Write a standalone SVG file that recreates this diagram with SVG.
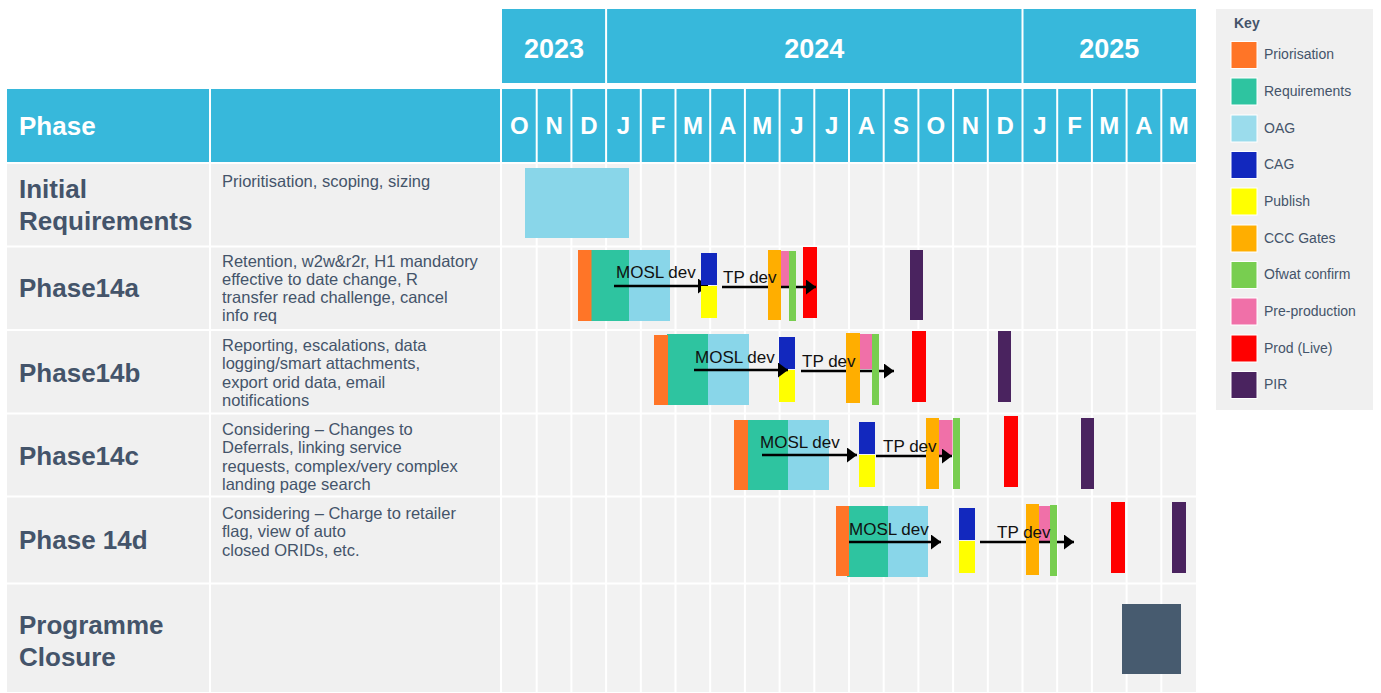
<svg xmlns="http://www.w3.org/2000/svg" width="1381" height="693" viewBox="0 0 1381 693">
  <style>
    text { font-family: "Liberation Sans", Arial, sans-serif; }
    .hdr { fill: #37B8DB; }
    .hdrtxt { fill: #FFFFFF; font-weight: bold; text-anchor: middle; }
    .year { font-size: 27px; }
    .month { font-size: 24px; }
    .phase { fill: #44546A; font-size: 26px; font-weight: bold; }
    .desc { fill: #44546A; font-size: 16.5px; }
    .lbl { fill: #111111; font-size: 17px; }
    .grid { stroke: #FFFFFF; stroke-width: 2; }
    .arrow { stroke: #000000; stroke-width: 2.5; fill: none; marker-end: url(#head); }
    .pri { fill: #FF7527; }
    .req { fill: #2EC4A0; }
    .oag { fill: #89D6E9; }
    .cag { fill: #1228BE; }
    .pub { fill: #FFFF00; }
    .ccc { fill: #FFAE00; }
    .ofw { fill: #78CE50; }
    .pre { fill: #F070A8; }
    .prod { fill: #FF0000; }
    .pir { fill: #4A235F; }
    .close { fill: #475B6F; }
    .sw { stroke: #FFFFFF; stroke-width: 1; }
    .keytxt { fill: #44546A; font-size: 14px; }
  </style>
  <defs>
    <marker id="head" markerUnits="userSpaceOnUse" viewBox="0 0 10 15" refX="10" refY="7.5" markerWidth="10" markerHeight="15" orient="auto">
      <path d="M0,0 L10,7.5 L0,15 Z" fill="#000000"/>
    </marker>
  </defs>

  <rect width="1381" height="693" fill="#FFFFFF"/>

  <!-- header: years and months -->
  <g id="header">
    <rect class="hdr" x="502" y="9" width="694" height="74"/>
    <rect class="hdr" x="502" y="89" width="694" height="73"/>
    <rect class="hdr" x="7" y="89" width="202" height="73"/>
    <rect class="hdr" x="211" y="89" width="289" height="73"/>
    <line class="grid" x1="606.1" y1="9" x2="606.1" y2="83"/>
    <line class="grid" x1="1022.5" y1="9" x2="1022.5" y2="83"/>
    <g class="grid">
      <line x1="536.7" y1="89" x2="536.7" y2="162"/>
      <line x1="571.4" y1="89" x2="571.4" y2="162"/>
      <line x1="606.1" y1="89" x2="606.1" y2="162"/>
      <line x1="640.8" y1="89" x2="640.8" y2="162"/>
      <line x1="675.5" y1="89" x2="675.5" y2="162"/>
      <line x1="710.2" y1="89" x2="710.2" y2="162"/>
      <line x1="744.9" y1="89" x2="744.9" y2="162"/>
      <line x1="779.6" y1="89" x2="779.6" y2="162"/>
      <line x1="814.3" y1="89" x2="814.3" y2="162"/>
      <line x1="849" y1="89" x2="849" y2="162"/>
      <line x1="883.7" y1="89" x2="883.7" y2="162"/>
      <line x1="918.4" y1="89" x2="918.4" y2="162"/>
      <line x1="953.1" y1="89" x2="953.1" y2="162"/>
      <line x1="987.8" y1="89" x2="987.8" y2="162"/>
      <line x1="1022.5" y1="89" x2="1022.5" y2="162"/>
      <line x1="1057.2" y1="89" x2="1057.2" y2="162"/>
      <line x1="1091.9" y1="89" x2="1091.9" y2="162"/>
      <line x1="1126.6" y1="89" x2="1126.6" y2="162"/>
      <line x1="1161.3" y1="89" x2="1161.3" y2="162"/>
    </g>
    <text class="hdrtxt year" x="554" y="58">2023</text>
    <text class="hdrtxt year" x="814.3" y="58">2024</text>
    <text class="hdrtxt year" x="1109.2" y="58">2025</text>
    <g class="hdrtxt month">
      <text x="519.4" y="134">O</text>
      <text x="554.1" y="134">N</text>
      <text x="588.8" y="134">D</text>
      <text x="623.5" y="134">J</text>
      <text x="658.2" y="134">F</text>
      <text x="692.9" y="134">M</text>
      <text x="727.6" y="134">A</text>
      <text x="762.3" y="134">M</text>
      <text x="797" y="134">J</text>
      <text x="831.7" y="134">J</text>
      <text x="866.4" y="134">A</text>
      <text x="901.1" y="134">S</text>
      <text x="935.8" y="134">O</text>
      <text x="970.5" y="134">N</text>
      <text x="1005.2" y="134">D</text>
      <text x="1039.9" y="134">J</text>
      <text x="1074.6" y="134">F</text>
      <text x="1109.3" y="134">M</text>
      <text x="1144" y="134">A</text>
      <text x="1178.7" y="134">M</text>
    </g>
    <text x="19" y="135" fill="#FFFFFF" font-size="26" font-weight="bold">Phase</text>
  </g>

  <!-- table body and grid -->
  <g id="body">
    <rect x="7" y="164" width="494" height="528" fill="#F0F0F0"/>
    <rect x="502" y="164" width="694" height="528" fill="#F2F2F2"/>
    <g class="grid">
      <line x1="210" y1="164" x2="210" y2="692"/>
      <line x1="501" y1="164" x2="501" y2="692"/>
      <line x1="536.7" y1="164" x2="536.7" y2="692"/>
      <line x1="571.4" y1="164" x2="571.4" y2="692"/>
      <line x1="606.1" y1="164" x2="606.1" y2="692"/>
      <line x1="640.8" y1="164" x2="640.8" y2="692"/>
      <line x1="675.5" y1="164" x2="675.5" y2="692"/>
      <line x1="710.2" y1="164" x2="710.2" y2="692"/>
      <line x1="744.9" y1="164" x2="744.9" y2="692"/>
      <line x1="779.6" y1="164" x2="779.6" y2="692"/>
      <line x1="814.3" y1="164" x2="814.3" y2="692"/>
      <line x1="849" y1="164" x2="849" y2="692"/>
      <line x1="883.7" y1="164" x2="883.7" y2="692"/>
      <line x1="918.4" y1="164" x2="918.4" y2="692"/>
      <line x1="953.1" y1="164" x2="953.1" y2="692"/>
      <line x1="987.8" y1="164" x2="987.8" y2="692"/>
      <line x1="1022.5" y1="164" x2="1022.5" y2="692"/>
      <line x1="1057.2" y1="164" x2="1057.2" y2="692"/>
      <line x1="1091.9" y1="164" x2="1091.9" y2="692"/>
      <line x1="1126.6" y1="164" x2="1126.6" y2="692"/>
      <line x1="1161.3" y1="164" x2="1161.3" y2="692"/>
      <line x1="7" y1="246.5" x2="1196" y2="246.5"/>
      <line x1="7" y1="330" x2="1196" y2="330"/>
      <line x1="7" y1="413.5" x2="1196" y2="413.5"/>
      <line x1="7" y1="496.5" x2="1196" y2="496.5"/>
      <line x1="7" y1="583.5" x2="1196" y2="583.5"/>
    </g>
  </g>

  <!-- Initial Requirements -->
  <g id="initial-requirements">
    <text class="phase" x="19" y="198">Initial</text>
    <text class="phase" x="19" y="230">Requirements</text>
    <text class="desc" x="222" y="187">Prioritisation, scoping, sizing</text>
    <rect class="oag" x="525" y="168" width="104" height="70"/>
  </g>

  <!-- Phase14a -->
  <g id="phase14a">
    <text class="phase" x="19" y="297">Phase14a</text>
    <text class="desc" x="222" y="267">Retention, w2w&amp;r2r, H1 mandatory</text>
    <text class="desc" x="222" y="285">effective to date change, R</text>
    <text class="desc" x="222" y="303">transfer read challenge, cancel</text>
    <text class="desc" x="222" y="321">info req</text>
    <rect class="req" x="591" y="250" width="38" height="71"/>
    <rect class="oag" x="629" y="250" width="41" height="71"/>
    <rect class="pri" x="578" y="250" width="13.5" height="71"/>
    <rect class="pre" x="781" y="251" width="8.5" height="35"/>
    <rect class="prod" x="803" y="247" width="14" height="71"/>
    <rect class="pir" x="910" y="250" width="13" height="70"/>
  </g>

  <!-- Phase14b -->
  <g id="phase14b">
    <text class="phase" x="19" y="382">Phase14b</text>
    <text class="desc" x="222" y="351">Reporting, escalations, data</text>
    <text class="desc" x="222" y="369">logging/smart attachments,</text>
    <text class="desc" x="222" y="387.5">export orid data, email</text>
    <text class="desc" x="222" y="406">notifications</text>
    <rect class="req" x="667" y="334" width="41" height="71"/>
    <rect class="oag" x="708" y="334" width="41" height="71"/>
    <rect class="pri" x="654" y="335" width="14" height="70"/>
    <rect class="cag" x="779" y="337" width="16" height="32"/>
    <rect class="pub" x="779" y="370" width="16" height="32"/>
    <rect class="pre" x="860" y="334" width="12" height="35"/>
    <rect class="prod" x="912" y="331" width="14" height="71"/>
    <rect class="pir" x="998" y="331" width="13" height="71"/>
  </g>

  <!-- Phase14c -->
  <g id="phase14c">
    <text class="phase" x="19" y="465">Phase14c</text>
    <text class="desc" x="222" y="434.5">Considering – Changes to</text>
    <text class="desc" x="222" y="453">Deferrals, linking service</text>
    <text class="desc" x="222" y="471.5">requests, complex/very complex</text>
    <text class="desc" x="222" y="490">landing page search</text>
    <rect class="req" x="748" y="420" width="40" height="70"/>
    <rect class="oag" x="788" y="420" width="41" height="70"/>
    <rect class="pri" x="734" y="420" width="14" height="70"/>
    <rect class="cag" x="859" y="422" width="16" height="32"/>
    <rect class="pub" x="859" y="455" width="16" height="32"/>
    <rect class="pre" x="939" y="420" width="13.5" height="35"/>
    <rect class="prod" x="1004" y="416" width="14" height="71"/>
    <rect class="pir" x="1081" y="418" width="13" height="71"/>
  </g>

  <!-- Phase 14d -->
  <g id="phase14d">
    <text class="phase" x="19" y="549">Phase 14d</text>
    <text class="desc" x="222" y="518.5">Considering – Charge to retailer</text>
    <text class="desc" x="222" y="537">flag, view of auto</text>
    <text class="desc" x="222" y="555.5">closed ORIDs, etc.</text>
    <rect class="req" x="847" y="506" width="41" height="71"/>
    <rect class="oag" x="888" y="506" width="40" height="71"/>
    <rect class="pri" x="836" y="506" width="13" height="70"/>
    <rect class="cag" x="959" y="508" width="16" height="32"/>
    <rect class="pub" x="959" y="541" width="16" height="32"/>
    <rect class="pre" x="1039" y="506" width="11" height="35"/>
    <rect class="prod" x="1111" y="502" width="14" height="71"/>
    <rect class="pir" x="1172" y="502" width="14" height="71"/>
  </g>

  <!-- Programme Closure -->
  <g id="programme-closure">
    <text class="phase" x="19" y="634">Programme</text>
    <text class="phase" x="19" y="666">Closure</text>
    <rect class="close" x="1122" y="604" width="59" height="70"/>
  </g>

  <!-- development arrows -->
  <g id="connectors">
    <line class="arrow" x1="614" y1="286" x2="708" y2="286"/>
    <line class="arrow" x1="722" y1="287" x2="816" y2="287"/>
    <line class="arrow" x1="694" y1="370" x2="788" y2="370"/>
    <line class="arrow" x1="801" y1="371" x2="894" y2="371"/>
    <line class="arrow" x1="762" y1="455" x2="857" y2="455"/>
    <line class="arrow" x1="876" y1="456" x2="952" y2="456"/>
    <line class="arrow" x1="849" y1="542" x2="941" y2="542"/>
    <line class="arrow" x1="980" y1="542" x2="1074" y2="542"/>
  </g>

  <!-- gate bars drawn above the arrows -->
  <g id="gates">
    <rect class="cag" x="701" y="253" width="16" height="32"/>
    <rect class="pub" x="701" y="286" width="16" height="32"/>
    <rect class="ccc" x="768" y="250" width="13" height="70"/>
    <rect class="ofw" x="789" y="251" width="7" height="70"/>
    <rect class="ccc" x="846" y="333" width="14" height="70"/>
    <rect class="ofw" x="872" y="334" width="7" height="71"/>
    <rect class="ccc" x="926" y="418" width="13" height="71"/>
    <rect class="ofw" x="953" y="418" width="7" height="71"/>
    <rect class="ccc" x="1026" y="504" width="13" height="71"/>
    <rect class="ofw" x="1050" y="505" width="7" height="71"/>
  </g>

  <!-- arrow labels -->
  <g id="arrow-labels">
    <text class="lbl" x="616" y="278">MOSL dev</text>
    <text class="lbl" x="723" y="283">TP dev</text>
    <text class="lbl" x="695" y="363">MOSL dev</text>
    <text class="lbl" x="802" y="367">TP dev</text>
    <text class="lbl" x="760" y="448">MOSL dev</text>
    <text class="lbl" x="883" y="452">TP dev</text>
    <text class="lbl" x="849" y="535">MOSL dev</text>
    <text class="lbl" x="997" y="538">TP dev</text>
  </g>

  <!-- key -->
  <g id="key">
    <rect x="1216" y="9" width="157" height="401" fill="#F0F0F0"/>
    <text x="1234" y="28" fill="#44546A" font-size="14" font-weight="bold">Key</text>
    <g id="key-priorisation"><rect class="pri sw" x="1231" y="41.5" width="26" height="27"/><text class="keytxt" x="1264" y="59">Priorisation</text></g>
    <g id="key-requirements"><rect class="req sw" x="1231" y="78" width="26" height="27"/><text class="keytxt" x="1264" y="96">Requirements</text></g>
    <g id="key-oag"><rect class="sw" fill="#9BDCEC" x="1231" y="115" width="26" height="27"/><text class="keytxt" x="1264" y="132.5">OAG</text></g>
    <g id="key-cag"><rect class="cag sw" x="1231" y="151.5" width="26" height="27"/><text class="keytxt" x="1264" y="169">CAG</text></g>
    <g id="key-publish"><rect class="pub sw" x="1231" y="188" width="26" height="27"/><text class="keytxt" x="1264" y="206">Publish</text></g>
    <g id="key-ccc"><rect class="ccc sw" x="1231" y="225" width="26" height="27"/><text class="keytxt" x="1264" y="242.5">CCC Gates</text></g>
    <g id="key-ofwat"><rect class="ofw sw" x="1231" y="261.5" width="26" height="27"/><text class="keytxt" x="1264" y="279">Ofwat confirm</text></g>
    <g id="key-preprod"><rect class="pre sw" x="1231" y="298" width="26" height="27"/><text class="keytxt" x="1264" y="316">Pre-production</text></g>
    <g id="key-prod"><rect class="prod sw" x="1231" y="335" width="26" height="27"/><text class="keytxt" x="1264" y="352.5">Prod (Live)</text></g>
    <g id="key-pir"><rect class="pir sw" x="1231" y="371.5" width="26" height="27"/><text class="keytxt" x="1264" y="389">PIR</text></g>
  </g>
</svg>
